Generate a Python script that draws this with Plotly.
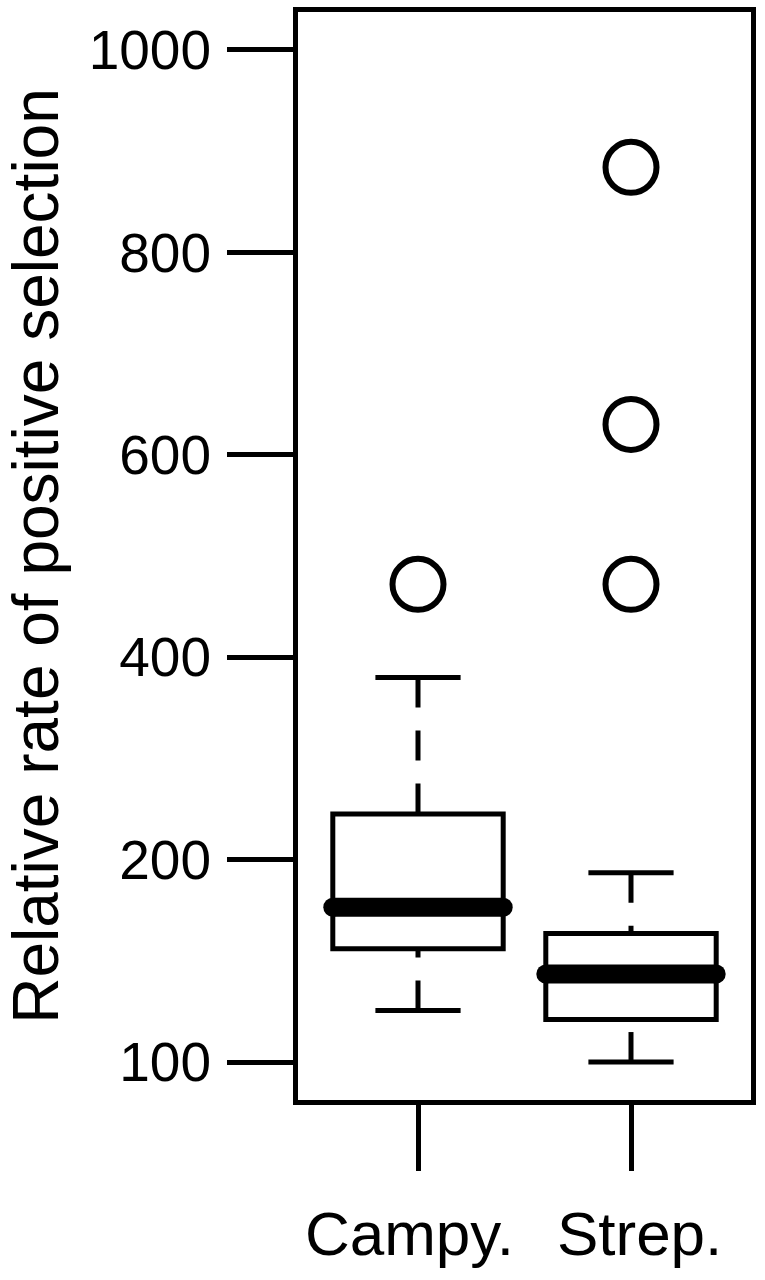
"""Box plot of relative rate of positive selection, R base-graphics look"""

import plotly.graph_objects as go

# groups and their box statistics (read in axis units; 0 is the tick labelled 100)
groups = ["Campy.\u00a0", "\u00a0Strep."]
positions = [1, 2]
lower_whisker = [51, 0]
q1 = [112, 42]
median = [153, 87]
q3 = [245, 127]
upper_whisker = [380, 187]

# outliers per group
outlier_x = [1, 2, 2, 2]
outlier_y = [472, 472, 630, 884]

# y ticks
ytick_vals = [0, 200, 400, 600, 800, 1000]
ytick_text = ["100", "200", "400", "600", "800", "1000"]

FONT = "Liberation Sans, Arial, Helvetica, sans-serif"
BOX_W = 0.8
CAP_W = 0.4
LW = 5


def segments(xs0, xs1, ys0, ys1):
    """Join line segments into one trace, separated with None"""
    xx, yy = [], []
    for a, b, c, d in zip(xs0, xs1, ys0, ys1):
        xx += [a, b, None]
        yy += [c, d, None]
    return xx, yy


fig = go.Figure()

# boxes (whiskers drawn separately so they can be dashed)
fig.add_trace(go.Box(
    x=positions, q1=q1, median=median, q3=q3,
    lowerfence=q1, upperfence=q3,
    width=BOX_W, fillcolor="white",
    line=dict(color="black", width=LW),
    boxpoints=False, hoverinfo="skip",
))

# dashed whiskers, from whisker end towards the box
wx, wy = segments(positions + positions, positions + positions,
                  upper_whisker + lower_whisker, q3 + q1)
fig.add_trace(go.Scatter(
    x=wx, y=wy, mode="lines",
    line=dict(color="black", width=LW, dash="30px,23px"),
    hoverinfo="skip",
))

# whisker caps
cx0 = [p - CAP_W / 2 for p in positions] * 2
cx1 = [p + CAP_W / 2 for p in positions] * 2
cx, cy = segments(cx0, cx1, upper_whisker + lower_whisker,
                  upper_whisker + lower_whisker)
fig.add_trace(go.Scatter(
    x=cx, y=cy, mode="lines",
    line=dict(color="black", width=LW),
    hoverinfo="skip",
))

# thick medians with round ends
mx, my = segments([p - BOX_W / 2 for p in positions],
                  [p + BOX_W / 2 for p in positions], median, median)
fig.add_trace(go.Scatter(
    x=mx, y=my, mode="lines+markers",
    line=dict(color="black", width=19),
    marker=dict(color="black", size=19, symbol="circle"),
    hoverinfo="skip",
))

# outliers
fig.add_trace(go.Scatter(
    x=outlier_x, y=outlier_y, mode="markers",
    marker=dict(symbol="circle-open", size=51, color="black",
                line=dict(color="black", width=6)),
    hoverinfo="skip",
))

fig.update_layout(
    width=765, height=1280,
    margin=dict(l=298, r=14, t=12, b=180),
    paper_bgcolor="white", plot_bgcolor="white",
    showlegend=False,
    font=dict(family=FONT, color="black"),
)

fig.update_xaxes(
    range=[0.4366, 2.5634], automargin=False,
    tickvals=positions, ticktext=groups,
    ticks="outside", ticklen=66, tickwidth=LW, tickcolor="black",
    tickfont=dict(size=62), ticklabelstandoff=10,
    showline=True, mirror=True, linewidth=LW, linecolor="black",
    showgrid=False, zeroline=False,
)

fig.update_yaxes(
    range=[-37.5, 1037.5], automargin=False,
    tickvals=ytick_vals, ticktext=ytick_text,
    ticks="outside", ticklen=66, tickwidth=LW, tickcolor="black",
    tickfont=dict(size=55), ticklabelstandoff=5,
    showline=True, mirror=True, linewidth=LW, linecolor="black",
    showgrid=False, zeroline=False,
    title=dict(text="Relative rate of positive selection",
               font=dict(size=64), standoff=42),
)

# the page body has a default 8px margin; drop it so the figure fills the window
page_js = (
    "document.documentElement.style.margin='0';"
    "document.body.style.margin='0';"
    "document.documentElement.style.overflow='hidden';"
    "document.body.style.overflow='hidden';"
)
fig.write_html("out.html", post_script=page_js,
               config={"displayModeBar": False})
